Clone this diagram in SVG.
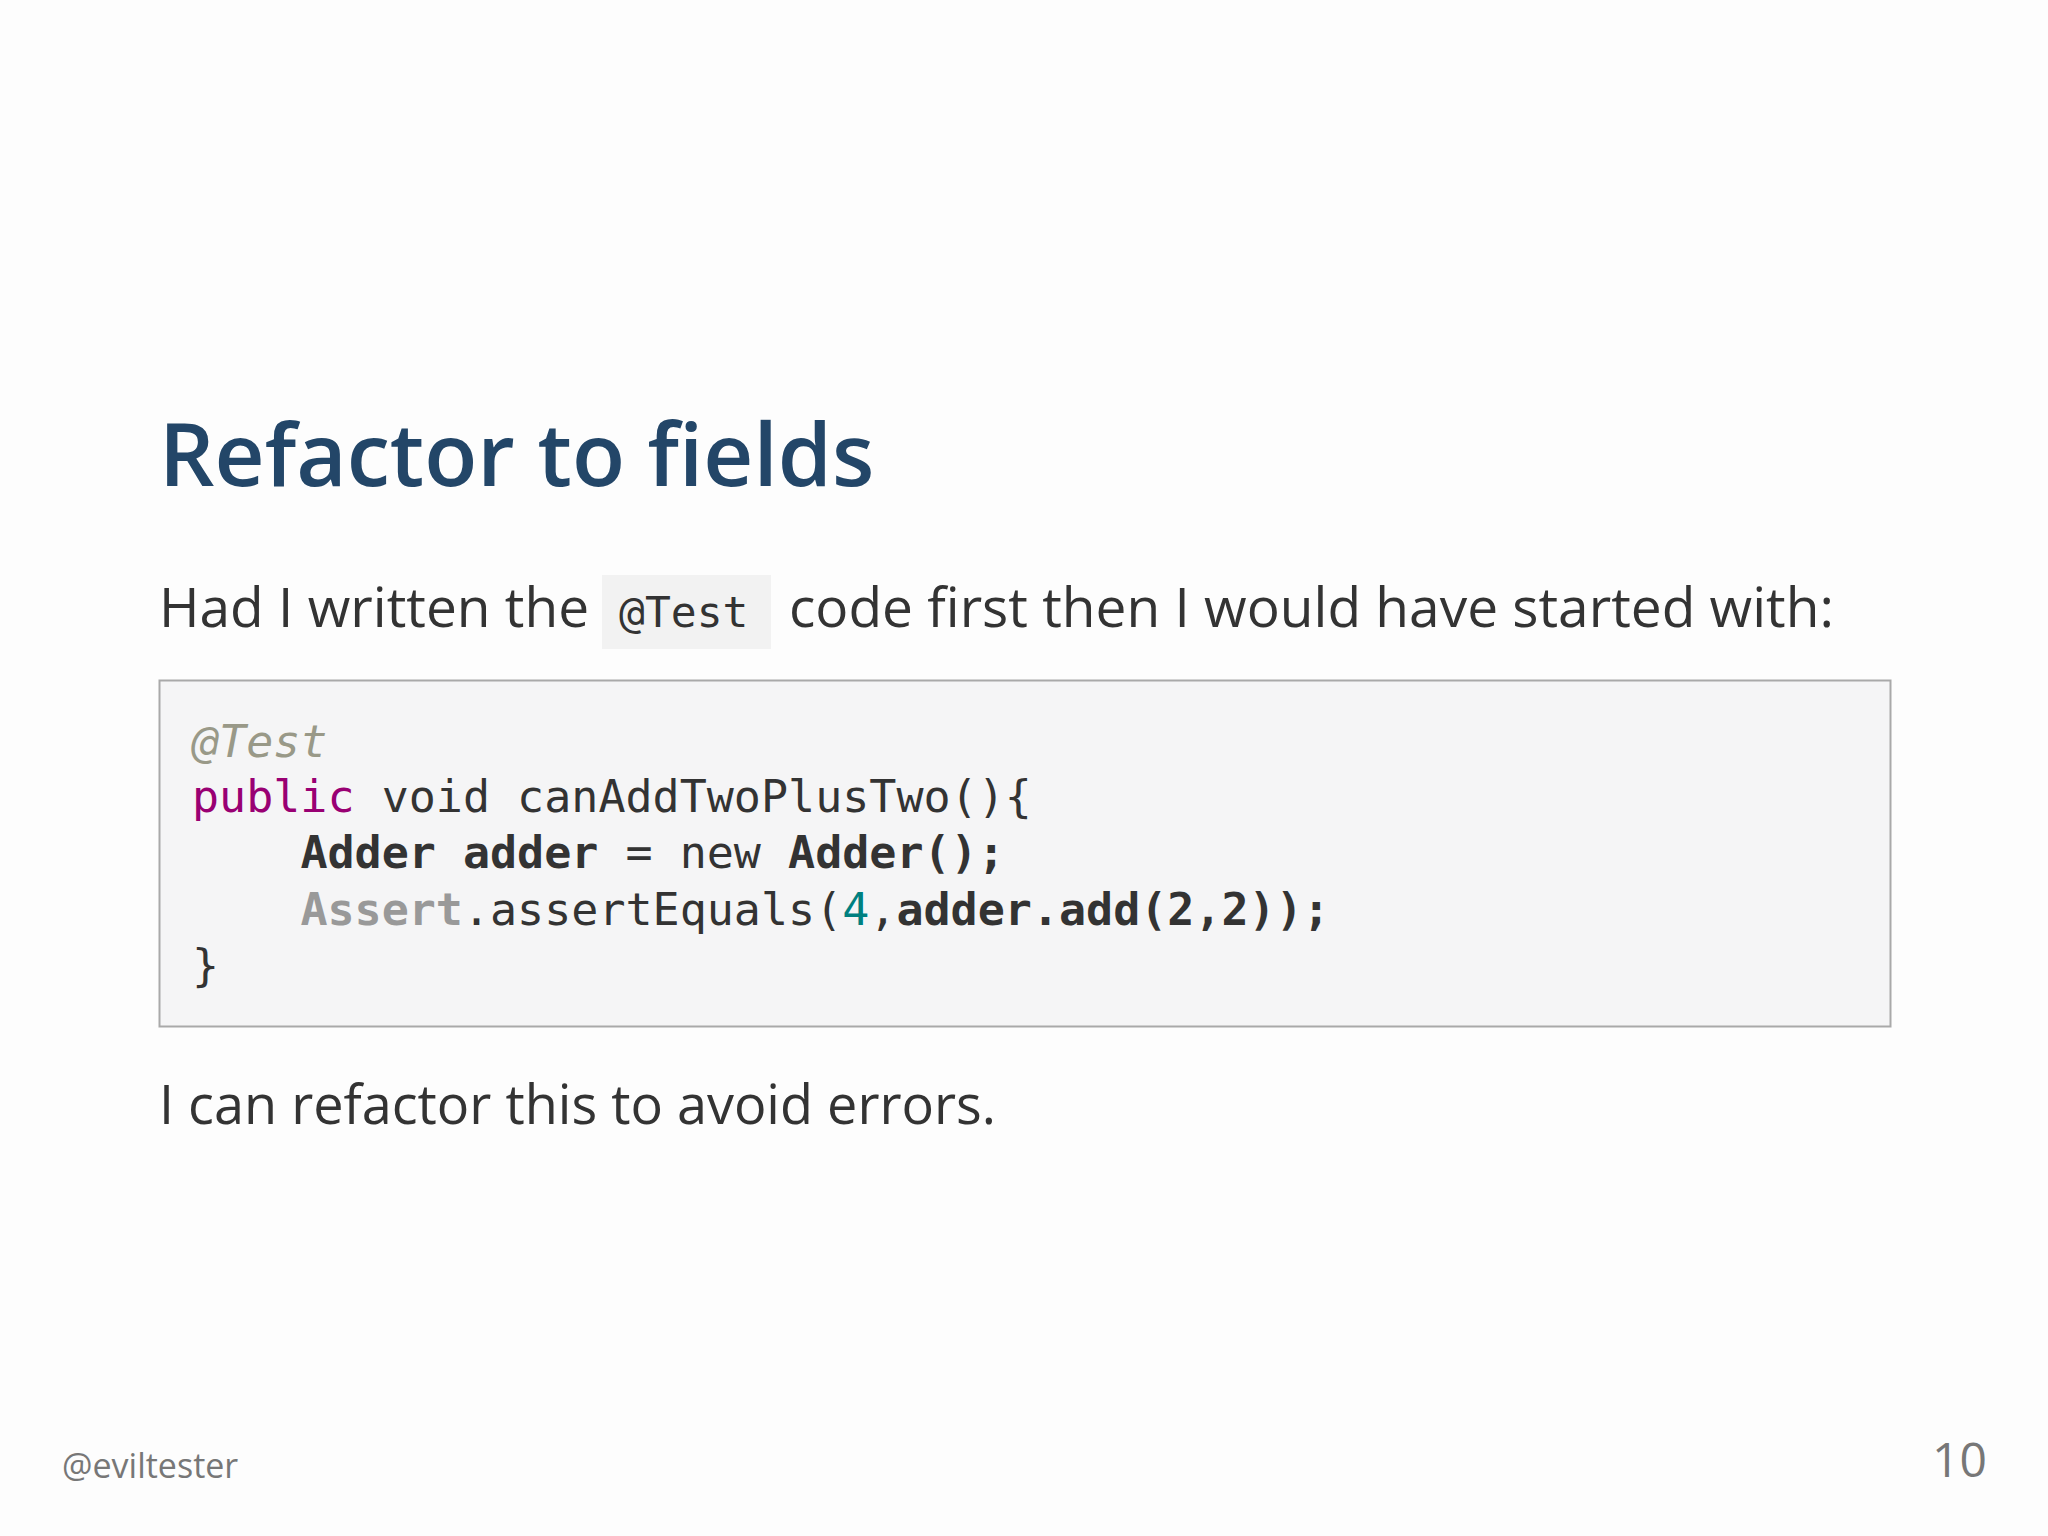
<svg xmlns="http://www.w3.org/2000/svg" width="2048" height="1536" viewBox="0 0 2048 1536">
<style>
.t{font-family:"Open Sans","Noto Sans",sans-serif;fill:#333}
.c{font-family:"DejaVu Sans Mono","Liberation Mono",monospace;font-size:45px;fill:#333}
.b{font-weight:bold}
</style>
<rect width="2048" height="1536" fill="#fdfdfd"/>
<text x="159" y="486" font-family="Open Sans,Noto Sans,sans-serif" font-size="87" font-weight="600" fill="#234668">Refactor to fields</text>
<g id="para">
<rect x="602" y="575" width="169" height="74" fill="#f2f2f2"/>
<text class="t" x="159" y="627" font-size="55">Had I written the</text>
<text class="c" x="619" y="627" style="font-size:43px">@Test</text>
<text class="t" x="789" y="627" font-size="55">code first then I would have started with:</text>
</g>
<g id="code">
<rect x="159.5" y="680.5" width="1731" height="346" fill="#f5f5f6" stroke="#a9a9a9" stroke-width="2"/>
<text class="c" xml:space="preserve" x="192" y="757" font-style="italic" style="fill:#999988">@Test</text>
<text class="c" xml:space="preserve" x="192" y="812"><tspan style="fill:#990073">public</tspan> void canAddTwoPlusTwo(){</text>
<text class="c" xml:space="preserve" x="192" y="868">    <tspan class="b">Adder adder</tspan> = new <tspan class="b">Adder();</tspan></text>
<text class="c" xml:space="preserve" x="192" y="925">    <tspan class="b" style="fill:#999">Assert</tspan>.assertEquals(<tspan style="fill:#008080">4</tspan>,<tspan class="b">adder.add(2,2));</tspan></text>
<text class="c" xml:space="preserve" x="192" y="981">}</text>
</g>
<text class="t" x="159" y="1124" font-size="54">I can refactor this to avoid errors.</text>
<text class="t" x="62" y="1478" font-size="34" style="fill:#777">@eviltester</text>
<text class="t" x="1987" y="1477" font-size="48" text-anchor="end" style="fill:#777">10</text>
</svg>
